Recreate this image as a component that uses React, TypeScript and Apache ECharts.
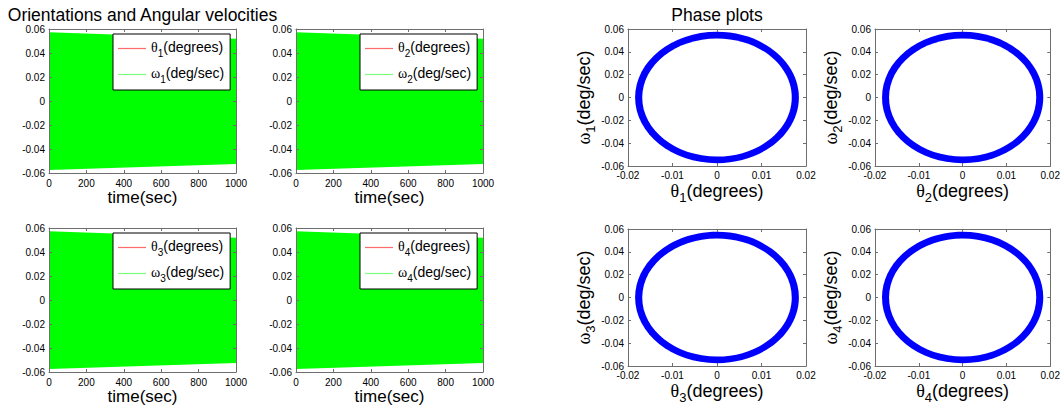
import React, { useEffect, useRef } from "react";
import * as echarts from "echarts";

// Envelope of the (densely oscillating) responses, sampled at a few times
const timeSec = [0, 500, 1000];
const omegaUpper = [0.0573, 0.0546, 0.0519];
const omegaLower = [-0.0575, -0.055, -0.0525];
const thetaUpper = [0.0184, 0.0176, 0.0168];
const thetaLower = [-0.0183, -0.0175, -0.0167];

// Phase portrait: semi-axes of the trajectory at start (outer) and end (inner)
const phaseCenter = [0, 0];
const phaseThetaAmp = [0.0184, 0.0168];
const phaseOmegaAmp = [0.0575, 0.0517];

const bodies = ["1", "2", "3", "4"];

// Axis ranges and tick steps
const timeRange = [0, 1000];
const timeStep = 200;
const rateRange = [-0.06, 0.06];
const rateStep = 0.02;
const angleRange = [-0.02, 0.02];
const angleStep = 0.01;

const SANS = '"Liberation Sans", Arial, Helvetica, sans-serif';
const SERIF = '"Liberation Serif", "DejaVu Serif", serif';
const BOX = "#6e6e6e";

const timeGrids = [
  { left: 49, top: 29 },
  { left: 296, top: 29 },
  { left: 49, top: 228 },
  { left: 296, top: 228 },
];
const phaseGrids = [
  { left: 628, top: 29 },
  { left: 875, top: 29 },
  { left: 628, top: 229 },
  { left: 875, top: 229 },
];

const fmt = (v: number) => String(+v.toFixed(3));

function axisBase(range: number[], step: number, position: string, labels: boolean, margin = 4) {
  return {
    type: "value",
    position,
    min: range[0],
    max: range[1],
    interval: step,
    z: 5,
    axisLine: { show: true, onZero: false, lineStyle: { color: BOX, width: 1 } },
    axisTick: { show: true, inside: true, length: 3, lineStyle: { color: BOX } },
    splitLine: { show: false },
    axisLabel: labels
      ? { show: true, color: "#000", fontSize: 10, fontFamily: SANS, margin, formatter: fmt }
      : { show: false },
  };
}

const subRich = (main: number, sub: number, drop: number) => ({
  g: { fontFamily: SERIF, fontSize: main, lineHeight: main + 3, verticalAlign: "top", color: "#000" },
  t: { fontFamily: SANS, fontSize: main, lineHeight: main + 3, verticalAlign: "top", color: "#000" },
  s: {
    fontFamily: SANS,
    fontSize: sub,
    lineHeight: sub + 2,
    verticalAlign: "top",
    padding: [drop, 0, 0, 0],
    color: "#000",
  },
});

const richName = (name: string) => `{g|${name[0]}}{s|${name[1]}}{t|${name.slice(2)}}`;

export default function App() {
  const ref = useRef<HTMLDivElement>(null);

  useEffect(() => {
    if (!ref.current) return;
    const chart = echarts.init(ref.current, null, { renderer: "svg" });

    const grids: any[] = [];
    const xAxes: any[] = [];
    const yAxes: any[] = [];
    const series: any[] = [];
    const legends: any[] = [];

    const band = (upper: number[], lower: number[], color: string) => (params: any, api: any) => {
      if (params.dataIndex !== 0) return null;
      const pts: number[][] = [];
      timeSec.forEach((t, i) => pts.push(api.coord([t, upper[i]])));
      for (let i = timeSec.length - 1; i >= 0; i--) pts.push(api.coord([timeSec[i], lower[i]]));
      return { type: "polygon", shape: { points: pts }, style: { fill: color } };
    };

    // Time histories
    timeGrids.forEach((g, k) => {
      const gi = grids.length;
      grids.push({ left: g.left, top: g.top, width: 187, height: 144 });
      const xi = xAxes.length;
      const yi = yAxes.length;
      xAxes.push({
        ...axisBase(timeRange, timeStep, "bottom", true, 5),
        gridIndex: gi,
        name: "time(sec)",
        nameLocation: "middle",
        nameGap: 14,
        nameTextStyle: { fontSize: 17, color: "#000", fontFamily: SANS },
      });
      xAxes.push({ ...axisBase(timeRange, timeStep, "top", false), gridIndex: gi });
      yAxes.push({ ...axisBase(rateRange, rateStep, "left", true), gridIndex: gi });
      yAxes.push({ ...axisBase(rateRange, rateStep, "right", false), gridIndex: gi });

      const thetaName = `θ${bodies[k]}(degrees)`;
      const omegaName = `ω${bodies[k]}(deg/sec)`;
      series.push({
        type: "custom",
        name: thetaName,
        xAxisIndex: xi,
        yAxisIndex: yi,
        clip: true,
        z: 1,
        itemStyle: { color: "#ff0000" },
        data: timeSec.map((t, i) => [t, thetaUpper[i], thetaLower[i]]),
        encode: { x: 0, y: [1, 2] },
        renderItem: band(thetaUpper, thetaLower, "#ff0000"),
      });
      series.push({
        type: "custom",
        name: omegaName,
        xAxisIndex: xi,
        yAxisIndex: yi,
        clip: true,
        z: 2,
        itemStyle: { color: "#00ff00" },
        data: timeSec.map((t, i) => [t, omegaUpper[i], omegaLower[i]]),
        encode: { x: 0, y: [1, 2] },
        renderItem: band(omegaUpper, omegaLower, "#00ff00"),
      });
      legends.push({
        left: g.left + 64,
        top: g.top + 5,
        orient: "vertical",
        backgroundColor: "#fff",
        borderColor: "#000",
        borderWidth: 1,
        borderRadius: 0,
        padding: [6, 6, 6, 5],
        itemGap: 8,
        itemWidth: 28,
        itemHeight: 1.2,
        icon: "rect",
        selectedMode: false,
        data: [
          { name: thetaName, itemStyle: { color: "#ff6a6a", borderWidth: 0, opacity: 1 } },
          { name: omegaName, itemStyle: { color: "#7cff7c", borderWidth: 0, opacity: 1 } },
        ],
        formatter: richName,
        textStyle: { rich: subRich(14, 10, 8) },
      });
    });

    // Phase portraits
    phaseGrids.forEach((g, k) => {
      const gi = grids.length;
      grids.push({ left: g.left, top: g.top, width: 178, height: 137 });
      const xi = xAxes.length;
      const yi = yAxes.length;
      xAxes.push({
        ...axisBase(angleRange, angleStep, "bottom", true),
        gridIndex: gi,
        name: richName(`θ${bodies[k]}(degrees)`),
        nameLocation: "middle",
        nameGap: 16,
        nameTextStyle: { rich: subRich(18, 13, 9) },
      });
      xAxes.push({ ...axisBase(angleRange, angleStep, "top", false), gridIndex: gi });
      yAxes.push({
        ...axisBase(rateRange, rateStep, "left", true),
        gridIndex: gi,
        name: richName(`ω${bodies[k]}(deg/sec)`),
        nameLocation: "middle",
        nameRotate: 90,
        nameGap: 31,
        nameTextStyle: { rich: subRich(18, 13, 9) },
      });
      yAxes.push({ ...axisBase(rateRange, rateStep, "right", false), gridIndex: gi });

      series.push({
        type: "custom",
        name: `phase${bodies[k]}`,
        xAxisIndex: xi,
        yAxisIndex: yi,
        clip: true,
        data: [phaseCenter],
        renderItem: (_p: any, api: any) => {
          const c = api.coord([phaseCenter[0], phaseCenter[1]]);
          const outer = api.size([phaseThetaAmp[0], phaseOmegaAmp[0]]);
          const inner = api.size([phaseThetaAmp[1], phaseOmegaAmp[1]]);
          return {
            type: "group",
            children: [
              { type: "ellipse", shape: { cx: c[0], cy: c[1], rx: outer[0], ry: outer[1] }, style: { fill: "#0000ff" } },
              { type: "ellipse", shape: { cx: c[0], cy: c[1], rx: inner[0], ry: inner[1] }, style: { fill: "#ffffff" } },
            ],
          };
        },
      });
    });

    const titleStyle = {
      fill: "#000",
      fontSize: 17.5,
      fontFamily: SANS,
      align: "center",
      verticalAlign: "middle",
      textAlign: "center",
      textVerticalAlign: "middle",
    };

    chart.setOption({
      animation: false,
      backgroundColor: "#fff",
      grid: grids,
      xAxis: xAxes,
      yAxis: yAxes,
      series,
      legend: legends,
      graphic: [
        { type: "text", x: 142.5, y: 15, style: { ...titleStyle, text: "Orientations and Angular velocities" } },
        { type: "text", x: 717, y: 15, style: { ...titleStyle, text: "Phase plots" } },
      ],
    });

    return () => chart.dispose();
  }, []);

  return (
    <div
      ref={ref}
      style={{ position: "fixed", left: 0, top: 0, width: 1063, height: 410, background: "#fff" }}
    />
  );
}
